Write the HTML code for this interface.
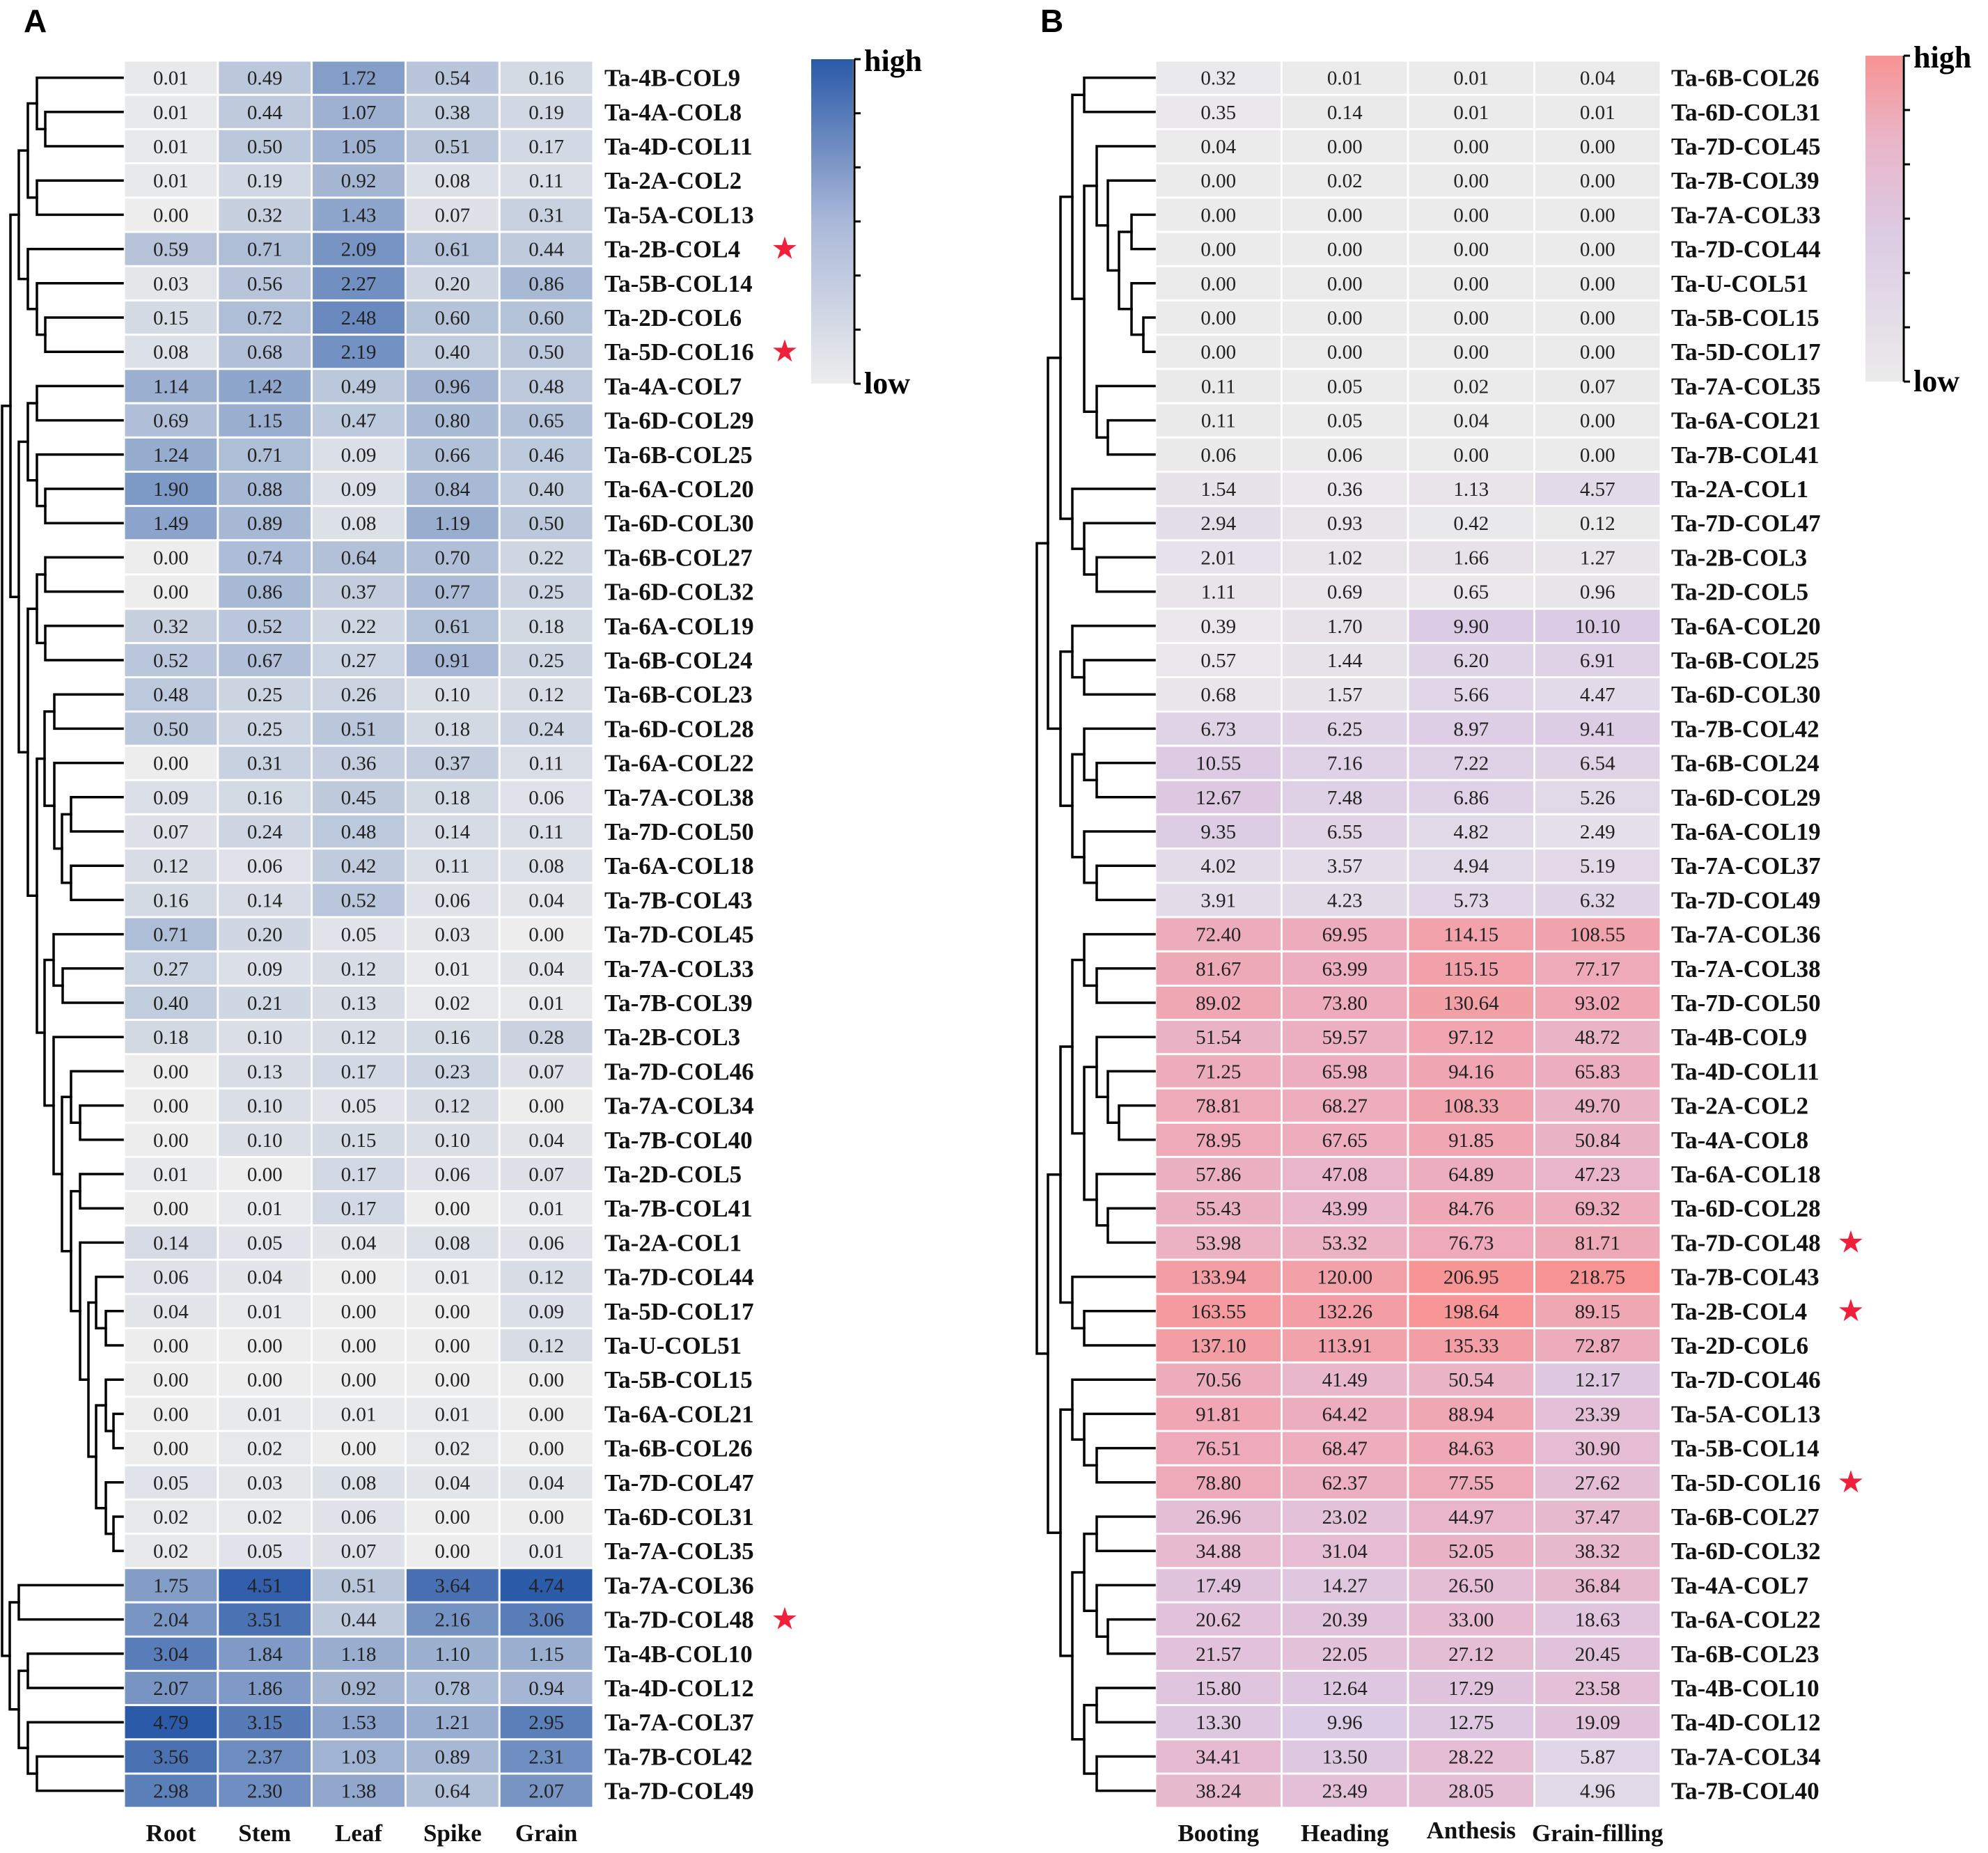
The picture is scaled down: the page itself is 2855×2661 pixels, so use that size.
<!DOCTYPE html>
<html><head><meta charset="utf-8">
<style>
html,body{margin:0;padding:0;background:#fff;}
svg text{font-family:"Liberation Serif",serif;}
</style></head>
<body>
<svg id="fig" xmlns="http://www.w3.org/2000/svg" width="2855" height="2656" viewBox="0 0 2855 2656">
<defs>
<linearGradient id="gA" x1="0" y1="1" x2="0" y2="0">
<stop offset="0" stop-color="#ededed"/><stop offset="0.5" stop-color="#aab8d9"/><stop offset="1" stop-color="#2a5aa8"/>
</linearGradient>
<linearGradient id="gB" x1="0" y1="1" x2="0" y2="0">
<stop offset="0" stop-color="#ebebeb"/><stop offset="0.45" stop-color="#dccbe4"/><stop offset="0.75" stop-color="#eab4c6"/><stop offset="1" stop-color="#f89393"/>
</linearGradient>
</defs>
<text x="34" y="46" font-size="46" font-weight="bold" style="font-family:'Liberation Sans',sans-serif">A</text>
<text x="1494" y="46" font-size="46" font-weight="bold" style="font-family:'Liberation Sans',sans-serif">B</text>
<g id="layer"></g>
</svg>
<script>
const colsA = ["Root","Stem","Leaf","Spike","Grain"];
const rowsA = ["Ta-4B-COL9","Ta-4A-COL8","Ta-4D-COL11","Ta-2A-COL2","Ta-5A-COL13","Ta-2B-COL4","Ta-5B-COL14","Ta-2D-COL6","Ta-5D-COL16","Ta-4A-COL7","Ta-6D-COL29","Ta-6B-COL25","Ta-6A-COL20","Ta-6D-COL30","Ta-6B-COL27","Ta-6D-COL32","Ta-6A-COL19","Ta-6B-COL24","Ta-6B-COL23","Ta-6D-COL28","Ta-6A-COL22","Ta-7A-COL38","Ta-7D-COL50","Ta-6A-COL18","Ta-7B-COL43","Ta-7D-COL45","Ta-7A-COL33","Ta-7B-COL39","Ta-2B-COL3","Ta-7D-COL46","Ta-7A-COL34","Ta-7B-COL40","Ta-2D-COL5","Ta-7B-COL41","Ta-2A-COL1","Ta-7D-COL44","Ta-5D-COL17","Ta-U-COL51","Ta-5B-COL15","Ta-6A-COL21","Ta-6B-COL26","Ta-7D-COL47","Ta-6D-COL31","Ta-7A-COL35","Ta-7A-COL36","Ta-7D-COL48","Ta-4B-COL10","Ta-4D-COL12","Ta-7A-COL37","Ta-7B-COL42","Ta-7D-COL49"];
const valsA = [
[0.01,0.49,1.72,0.54,0.16],[0.01,0.44,1.07,0.38,0.19],[0.01,0.50,1.05,0.51,0.17],[0.01,0.19,0.92,0.08,0.11],[0.00,0.32,1.43,0.07,0.31],
[0.59,0.71,2.09,0.61,0.44],[0.03,0.56,2.27,0.20,0.86],[0.15,0.72,2.48,0.60,0.60],[0.08,0.68,2.19,0.40,0.50],[1.14,1.42,0.49,0.96,0.48],
[0.69,1.15,0.47,0.80,0.65],[1.24,0.71,0.09,0.66,0.46],[1.90,0.88,0.09,0.84,0.40],[1.49,0.89,0.08,1.19,0.50],[0.00,0.74,0.64,0.70,0.22],
[0.00,0.86,0.37,0.77,0.25],[0.32,0.52,0.22,0.61,0.18],[0.52,0.67,0.27,0.91,0.25],[0.48,0.25,0.26,0.10,0.12],[0.50,0.25,0.51,0.18,0.24],
[0.00,0.31,0.36,0.37,0.11],[0.09,0.16,0.45,0.18,0.06],[0.07,0.24,0.48,0.14,0.11],[0.12,0.06,0.42,0.11,0.08],[0.16,0.14,0.52,0.06,0.04],
[0.71,0.20,0.05,0.03,0.00],[0.27,0.09,0.12,0.01,0.04],[0.40,0.21,0.13,0.02,0.01],[0.18,0.10,0.12,0.16,0.28],[0.00,0.13,0.17,0.23,0.07],
[0.00,0.10,0.05,0.12,0.00],[0.00,0.10,0.15,0.10,0.04],[0.01,0.00,0.17,0.06,0.07],[0.00,0.01,0.17,0.00,0.01],[0.14,0.05,0.04,0.08,0.06],
[0.06,0.04,0.00,0.01,0.12],[0.04,0.01,0.00,0.00,0.09],[0.00,0.00,0.00,0.00,0.12],[0.00,0.00,0.00,0.00,0.00],[0.00,0.01,0.01,0.01,0.00],
[0.00,0.02,0.00,0.02,0.00],[0.05,0.03,0.08,0.04,0.04],[0.02,0.02,0.06,0.00,0.00],[0.02,0.05,0.07,0.00,0.01],[1.75,4.51,0.51,3.64,4.74],
[2.04,3.51,0.44,2.16,3.06],[3.04,1.84,1.18,1.10,1.15],[2.07,1.86,0.92,0.78,0.94],[4.79,3.15,1.53,1.21,2.95],[3.56,2.37,1.03,0.89,2.31],
[2.98,2.30,1.38,0.64,2.07]];
const starsA = [5,8,45];
const colsB = ["Booting","Heading","Anthesis","Grain-filling"];
const rowsB = ["Ta-6B-COL26","Ta-6D-COL31","Ta-7D-COL45","Ta-7B-COL39","Ta-7A-COL33","Ta-7D-COL44","Ta-U-COL51","Ta-5B-COL15","Ta-5D-COL17","Ta-7A-COL35","Ta-6A-COL21","Ta-7B-COL41","Ta-2A-COL1","Ta-7D-COL47","Ta-2B-COL3","Ta-2D-COL5","Ta-6A-COL20","Ta-6B-COL25","Ta-6D-COL30","Ta-7B-COL42","Ta-6B-COL24","Ta-6D-COL29","Ta-6A-COL19","Ta-7A-COL37","Ta-7D-COL49","Ta-7A-COL36","Ta-7A-COL38","Ta-7D-COL50","Ta-4B-COL9","Ta-4D-COL11","Ta-2A-COL2","Ta-4A-COL8","Ta-6A-COL18","Ta-6D-COL28","Ta-7D-COL48","Ta-7B-COL43","Ta-2B-COL4","Ta-2D-COL6","Ta-7D-COL46","Ta-5A-COL13","Ta-5B-COL14","Ta-5D-COL16","Ta-6B-COL27","Ta-6D-COL32","Ta-4A-COL7","Ta-6A-COL22","Ta-6B-COL23","Ta-4B-COL10","Ta-4D-COL12","Ta-7A-COL34","Ta-7B-COL40"];
const valsB = [
[0.32,0.01,0.01,0.04],[0.35,0.14,0.01,0.01],[0.04,0,0,0],[0,0.02,0,0],[0,0,0,0],[0,0,0,0],[0,0,0,0],[0,0,0,0],[0,0,0,0],
[0.11,0.05,0.02,0.07],[0.11,0.05,0.04,0],[0.06,0.06,0,0],[1.54,0.36,1.13,4.57],[2.94,0.93,0.42,0.12],[2.01,1.02,1.66,1.27],[1.11,0.69,0.65,0.96],
[0.39,1.70,9.90,10.10],[0.57,1.44,6.20,6.91],[0.68,1.57,5.66,4.47],[6.73,6.25,8.97,9.41],[10.55,7.16,7.22,6.54],[12.67,7.48,6.86,5.26],
[9.35,6.55,4.82,2.49],[4.02,3.57,4.94,5.19],[3.91,4.23,5.73,6.32],[72.40,69.95,114.15,108.55],[81.67,63.99,115.15,77.17],[89.02,73.80,130.64,93.02],
[51.54,59.57,97.12,48.72],[71.25,65.98,94.16,65.83],[78.81,68.27,108.33,49.70],[78.95,67.65,91.85,50.84],[57.86,47.08,64.89,47.23],
[55.43,43.99,84.76,69.32],[53.98,53.32,76.73,81.71],[133.94,120.00,206.95,218.75],[163.55,132.26,198.64,89.15],[137.10,113.91,135.33,72.87],
[70.56,41.49,50.54,12.17],[91.81,64.42,88.94,23.39],[76.51,68.47,84.63,30.90],[78.80,62.37,77.55,27.62],[26.96,23.02,44.97,37.47],
[34.88,31.04,52.05,38.32],[17.49,14.27,26.50,36.84],[20.62,20.39,33.00,18.63],[21.57,22.05,27.12,20.45],[15.80,12.64,17.29,23.58],
[13.30,9.96,12.75,19.09],[34.41,13.50,28.22,5.87],[38.24,23.49,28.05,4.96]];
const starsB = [34,36,41];
// dendrogram trees: [mergeX, child, child]; numbers are leaf rows
const treeA = [3,[15,[27,[40,[53,0,[65,1,2]],[53,3,4]],[40,5,[53,6,[65,7,8]]]],[27,[40,[53,9,10],[53,11,[65,12,13]]],[40,[53,[65,14,15],[65,16,17]],[53,[64,[78,18,19],[78,20,[89,[102,21,22],[102,23,24]]]],[64,[77,25,[90,26,27]],[77,28,[89,[102,29,[115,30,31]],[102,[115,32,33],[115,34,[127,[138,35,[152,36,37]],[138,[152,38,[163,39,40]],[152,41,[163,42,43]]]]]]]]]]]]],[14,[27,44,45],[27,[40,46,47],[40,48,[53,49,50]]]]];
const a=1489,b=1505,c=1523,d=1540,e=1557,f=1575,g=1591,h=1607,i=1625,j=1642;
const treeB = [a,[b,[c,[d,[e,0,1],[e,[f,2,[g,3,[h,[i,4,5],[i,6,[j,7,8]]]]],[f,9,[g,10,11]]]],[d,12,[e,13,[f,14,15]]]],[c,[d,16,[e,17,18]],[d,[e,19,[f,20,21]],[e,22,[f,23,24]]]]],[b,[c,[d,[e,25,[f,26,27]],[e,[f,28,[g,29,[h,30,31]]],[f,32,[g,33,34]]]],[d,35,[e,36,37]]],[c,[d,38,[e,39,[f,40,41]]],[d,[e,[f,42,43],[f,44,[g,45,46]]],[e,[f,47,48],[f,49,50]]]]]];

const NS="http://www.w3.org/2000/svg";
const layer=document.getElementById('layer');
const TOP=87, RH=49.2;
function mk(tag,attrs,parent){const el=document.createElementNS(NS,tag);for(const k in attrs)el.setAttribute(k,attrs[k]);(parent||layer).appendChild(el);return el;}
function hex(cs){return '#'+cs.map(v=>Math.round(v).toString(16).padStart(2,'0')).join('');}
function interp(stops,t){t=Math.max(0,Math.min(1,t));for(let k=1;k<stops.length;k++){if(t<=stops[k][0]){const s0=stops[k-1],s1=stops[k];const u=(t-s0[0])/(s1[0]-s0[0]);return hex([0,1,2].map(n=>s0[1][n]+(s1[1][n]-s0[1][n])*u));}}return hex(stops[stops.length-1][1]);}
const stopsA=[[0,[237,237,237]],[1,[42,90,168]]];
const stopsB=[[0,[235,235,235]],[0.17,[231,227,234]],[0.33,[226,217,232]],[0.44,[220,203,228]],[0.56,[225,195,220]],[0.69,[232,184,204]],[0.81,[238,170,185]],[1,[248,147,147]]];
const colorA=v=>interp(stopsA,Math.pow(v/4.8,0.6));
const colorB=v=>interp(stopsB,Math.log(1+v)/Math.log(221));

function heatmap(p){
  const g=mk('g',{});
  
  
  const cw=(p.x1-p.x0)/p.cols.length;
  p.rows.forEach((rn,r)=>{
    const y=TOP+r*RH;
    p.vals[r].forEach((v,cI)=>{
      const rect=mk('rect',{x:p.x0+cI*cw+1.5,y:y+1.5,width:cw-3,height:RH-3,fill:p.color(v)},g);
      
      
      const t=mk('text',{x:p.x0+(cI+0.5)*cw,y:y+RH/2+10,'font-size':29,'text-anchor':'middle',fill:'#222'},g);
      
      
      t.textContent=v.toFixed(2);
    });
    const lb=mk('text',{x:p.lx,y:y+RH/2+12,'font-size':35,'font-weight':'bold',fill:'#111'},g);
    
    
    lb.textContent=rn;
    if(p.stars.includes(r)){
      const s=mk('text',{x:p.sx,y:y+RH/2+14,'font-size':44,fill:'#f0203a','text-anchor':'middle'},g);
      
      
      s.textContent='★';
    }
  });
  p.cols.forEach((cn,cI)=>{
    const t=mk('text',{x:p.x0+(cI+0.5)*cw,y:(cn==='Anthesis'?2640:2644),'font-size':35,'font-weight':'bold','text-anchor':'middle',fill:'#111'},g);
    
    
    t.textContent=cn;
  });
}
function dendro(tree,leafX,name){
  const g=mk('g',{stroke:'#000','stroke-width':3.5,fill:'none','stroke-linecap':'square'});
  
  
  function lay(n){
    if(typeof n==='number')return {x:leafX,y:TOP+(n+0.5)*RH};
    const c1=lay(n[1]),c2=lay(n[2]),x=n[0];
    const p=mk('path',{d:`M${c1.x},${c1.y}H${x}V${c2.y}H${c2.x}`},g);
    
    
    return {x:x,y:(c1.y+c2.y)/2};
  }
  lay(tree);
}
function legend(x,y0,y1,w,grad,name){
  const g=mk('g',{});
  
  
  mk('rect',{x:x,y:y0,width:w,height:y1-y0,fill:'url(#'+grad+')'},g);
  const ax=x+w+2;
  mk('line',{x1:ax,y1:y0,x2:ax,y2:y1,stroke:'#000','stroke-width':3},g);
  for(let k=0;k<7;k++){const ty=y0+(y1-y0)*k/6;mk('line',{x1:ax,y1:ty,x2:ax+9,y2:ty,stroke:'#000','stroke-width':3},g);}
  const hi=mk('text',{x:ax+14,y:y0+17,'font-size':44,'font-weight':'bold'},g);
  
  
  hi.textContent='high';
  const lo=mk('text',{x:ax+14,y:y1+14,'font-size':44,'font-weight':'bold'},g);
  
  
  lo.textContent='low';
}
heatmap({name:'tissue-heatmap',x0:178,x1:852,cols:colsA,rows:rowsA,vals:valsA,color:colorA,lx:868,stars:starsA,sx:1127});
heatmap({name:'stage-heatmap',x0:1659,x1:2385,cols:colsB,rows:rowsB,vals:valsB,color:colorB,lx:2400,stars:starsB,sx:2658});
dendro(treeA,176,'dendrogram-a');
dendro(treeB,1658,'dendrogram-b');
legend(1165,85,551,60,'gA','color-legend-a');
legend(2679,80,548,53,'gB','color-legend-b');
</script>
</body></html>
